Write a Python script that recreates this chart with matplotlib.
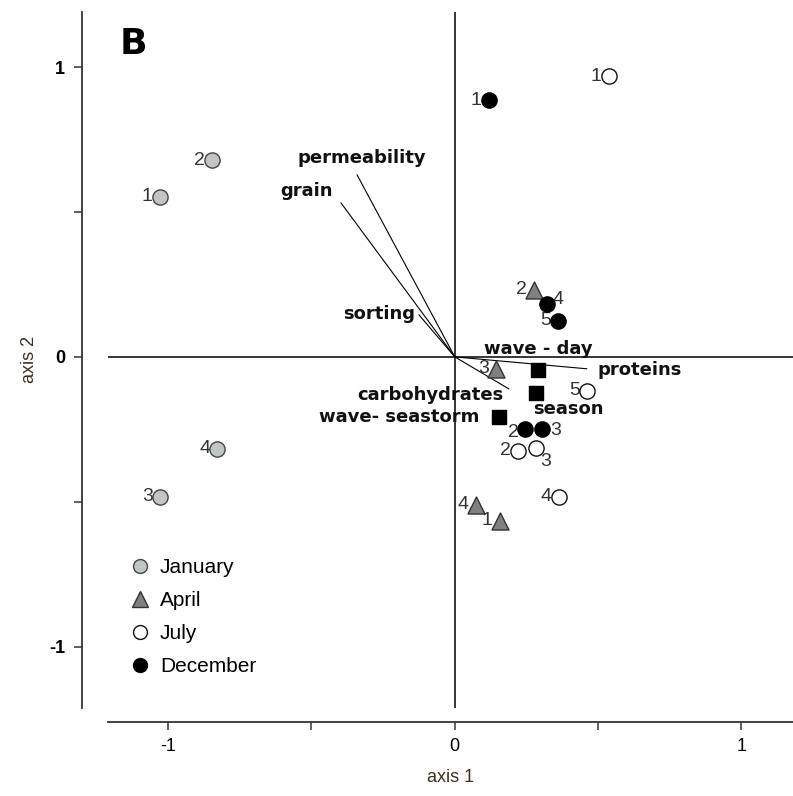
import matplotlib
matplotlib.use("Agg")
import matplotlib.pyplot as plt
from matplotlib.lines import Line2D

plt.rcParams['font.family'] = ['Liberation Sans', 'DejaVu Sans']

# sample scores per month (axis 1, axis 2) and their station numbers
jan_x = [-1.03, -0.847, -1.028, -0.829]
jan_y = [0.552, 0.679, -0.483, -0.317]
jan_lab = ["1", "2", "3", "4"]

apr_x = [0.157, 0.275, 0.143, 0.073]
apr_y = [-0.566, 0.231, -0.041, -0.510]
apr_lab = ["1", "2", "3", "4"]

jul_x = [0.537, 0.220, 0.283, 0.362, 0.460]
jul_y = [0.969, -0.324, -0.314, -0.483, -0.117]
jul_lab = ["1", "2", "3", "4", "5"]

dec_x = [0.118, 0.244, 0.303, 0.321, 0.359]
dec_y = [0.886, -0.248, -0.248, 0.183, 0.124]
dec_lab = ["1", "2", "3", "4", "5"]

# environmental vectors (drawn as lines from origin)
vec_names = ["permeability", "grain", "sorting", "proteins", "carbohydrates"]
vec_x = [-0.341, -0.397, -0.125, 0.460, 0.188]
vec_y = [0.628, 0.531, 0.145, -0.041, -0.110]

# nominal variable centroids
nom_names = ["wave - day", "season", "wave- seastorm"]
nom_x = [0.289, 0.282, 0.153]
nom_y = [-0.045, -0.124, -0.207]

# label offsets in points (style only)
num_off = {
    ("Dec", "4"): (4, 3, "left"), ("Dec", "3"): (6, -1, "left"),
    ("Jul", "3"): (3, -10, "left"), ("Dec", "2"): (-4, -3, "right"),
}
vec_lab_pos = {
    "permeability": (-0.324, 0.686, "center"), "grain": (-0.519, 0.572, "center"),
    "sorting": (-0.265, 0.148, "center"), "proteins": (0.498, -0.045, "left"),
    "carbohydrates": (-0.084, -0.131, "center"),
}
nom_lab_pos = {
    "wave - day": (0.101, 0.028, "left"), "season": (0.272, -0.179, "left"),
    "wave- seastorm": (-0.474, -0.207, "left"),
}

fig = plt.figure(figsize=(7.93, 7.96), dpi=100)
ax = fig.add_axes([0.1362, 0.111, 0.8638, 0.874])
ax.set_xlim(-1.21, 1.18)
ax.set_ylim(-1.21, 1.19)

ax.axhline(0, color="black", lw=1.1, zorder=1)
ax.axvline(0, color="black", lw=1.1, zorder=1)

for name, vx, vy in zip(vec_names, vec_x, vec_y):
    ax.plot([0, vx], [0, vy], color="black", lw=0.8, zorder=2)
    tx, ty, ha = vec_lab_pos[name]
    ax.text(tx, ty, name, fontsize=13, fontweight="bold", ha=ha, va="center",
            color="#111111", family=["DejaVu Sans"])

ax.scatter(nom_x, nom_y, marker="s", s=90, color="black", zorder=4)
for name, nx, ny in zip(nom_names, nom_x, nom_y):
    tx, ty, ha = nom_lab_pos[name]
    ax.text(tx, ty, name, fontsize=13, fontweight="bold", ha=ha, va="center",
            color="#111111", family=["DejaVu Sans"])

groups = [
    ("Jan", jan_x, jan_y, jan_lab, "o", "#c2c6c2", "#444444", 120),
    ("Apr", apr_x, apr_y, apr_lab, "^", "#808080", "#333333", 150),
    ("Jul", jul_x, jul_y, jul_lab, "o", "white", "#111111", 120),
    ("Dec", dec_x, dec_y, dec_lab, "o", "black", "black", 120),
]
for key, xs, ys, labs, mk, fc, ec, sz in groups:
    ax.scatter(xs, ys, marker=mk, s=sz, facecolor=fc, edgecolor=ec,
               linewidths=1.0, zorder=5)
    for x, y, lab in zip(xs, ys, labs):
        dx, dy, ha = num_off.get((key, lab), (-5, 0, "right"))
        ax.annotate(lab, (x, y), xytext=(dx, dy), textcoords="offset points",
                    ha=ha, va="center", fontsize=14, color="#333333")

ax.text(-1.17, 1.08, "B", fontsize=26, fontweight="bold", ha="left",
        va="center", family=["DejaVu Sans"])

handles = [
    Line2D([], [], marker="o", ls="", ms=10, mfc="#c2c6c2", mec="#444444"),
    Line2D([], [], marker="^", ls="", ms=11, mfc="#808080", mec="#333333"),
    Line2D([], [], marker="o", ls="", ms=10, mfc="white", mec="#111111"),
    Line2D([], [], marker="o", ls="", ms=10, mfc="black", mec="black"),
]
ax.legend(handles, ["January", "April", "July", "December"], loc="lower left",
          bbox_to_anchor=(0.03, 0.045), frameon=False, fontsize=15,
          borderpad=0, borderaxespad=0,
          handletextpad=0.4, labelspacing=0.68, handlelength=1.1)

for s in ["top", "right"]:
    ax.spines[s].set_visible(False)
ax.spines["left"].set_position(("outward", 18.7))
ax.spines["bottom"].set_position(("outward", 10))
for s in ["left", "bottom"]:
    ax.spines[s].set_color("#333333")
    ax.spines[s].set_linewidth(1.3)

ax.set_xticks([-1, -0.5, 0, 0.5, 1])
ax.set_xticklabels(["-1", "", "0", "", "1"])
ax.set_yticks([-1, -0.5, 0, 0.5, 1])
ax.set_yticklabels(["-1", "", "0", "", "1"], fontweight="bold")
ax.tick_params(direction="out", length=6, width=1.1, color="#333333",
               labelsize=13, pad=6)

ax.set_xlabel("axis 1", fontsize=13, color="#3b3022", labelpad=10)
ax.set_ylabel("axis 2", fontsize=13, color="#3b3022", labelpad=8)

fig.savefig("out.png", dpi=100)
